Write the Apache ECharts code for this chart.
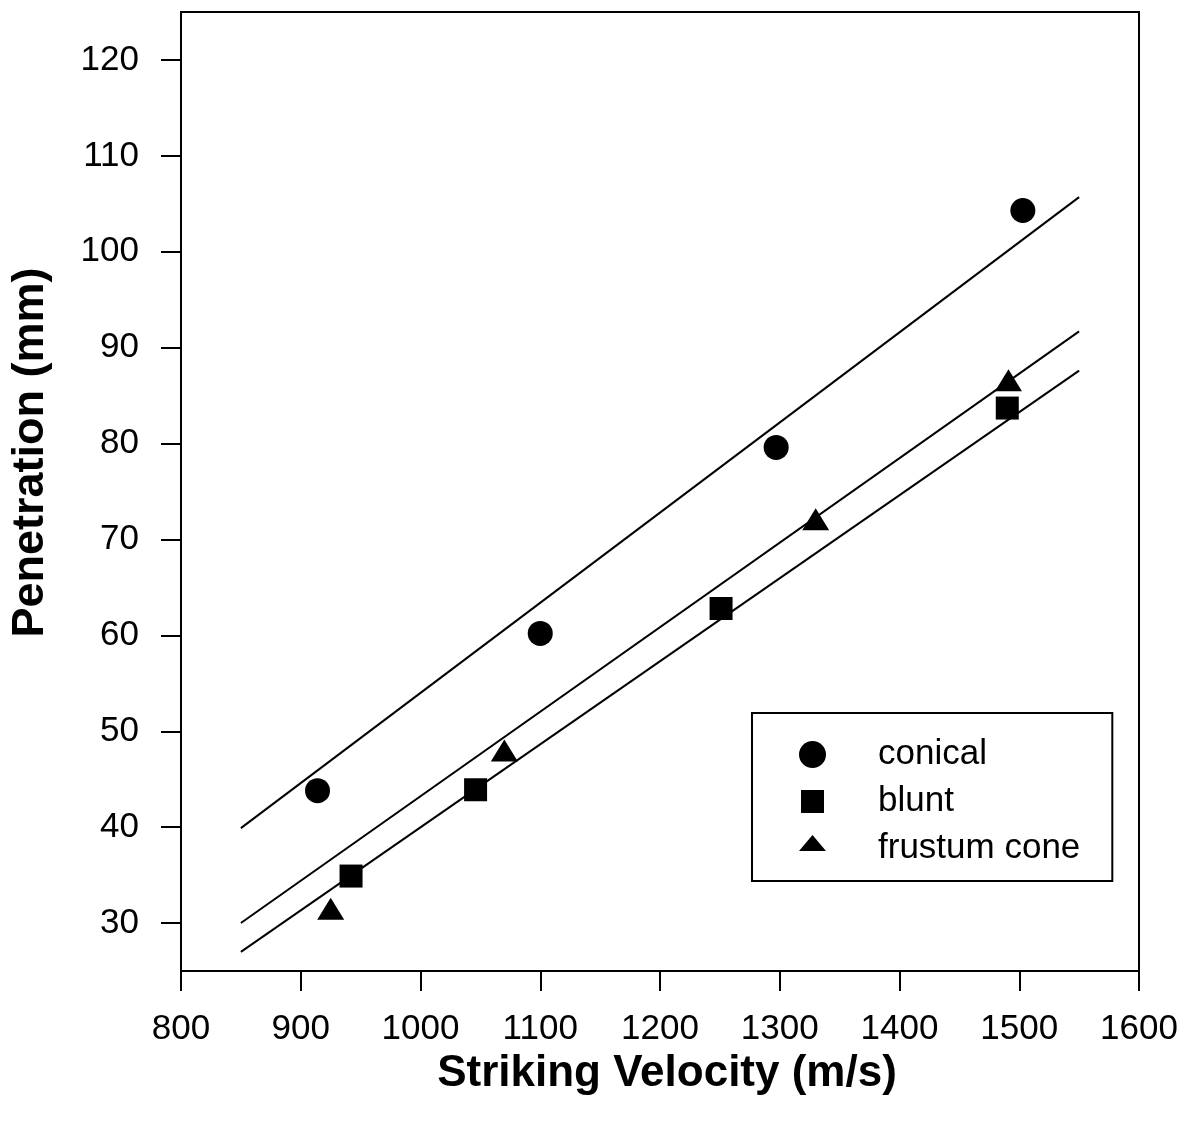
<!DOCTYPE html>
<html>
<head>
<meta charset="utf-8">
<script src="https://cdn.jsdelivr.net/npm/echarts@6/dist/echarts.min.js"></script>
<style>
html,body{margin:0;padding:0;background:#fff;}
#chart{width:1193px;height:1127px;}
</style>
</head>
<body>
<div id="chart"></div>
<script>
// ---- data ----
const conicalX = [914, 1100, 1297, 1503];
const conicalY = [43.8, 60.2, 79.6, 104.3];
const bluntX = [942, 1046, 1251, 1490];
const bluntY = [34.9, 43.9, 62.8, 83.7];
const frustumX = [925, 1070, 1330, 1491];
const frustumY = [31.5, 48.0, 72.1, 86.6];
// regression line endpoints
const fitX = [850, 1550];
const conicalFitY = [39.9, 105.7];
const frustumFitY = [30.0, 91.7];
const bluntFitY = [27.0, 87.6];
const yTicks = [30, 40, 50, 60, 70, 80, 90, 100, 110, 120];
const seriesNames = ['conical', 'blunt', 'frustum cone'];

const pairs = (xs, ys) => xs.map((x, i) => [x, ys[i]]);
const FONT = "'Liberation Sans', Arial, Helvetica, sans-serif";

const chart = echarts.init(document.getElementById('chart'), null, {renderer: 'canvas'});
const lineStyle = {color: '#000', width: 2};
chart.setOption({
  backgroundColor: '#fff',
  animation: false,
  grid: {left: 179, right: 54, top: 12, bottom: 156, show: true, borderColor: '#000', borderWidth: 2, backgroundColor: 'transparent'},
  xAxis: {
    type: 'value', min: 800, max: 1600, interval: 100,
    name: 'Striking Velocity (m/s)', nameLocation: 'middle', nameGap: 79,
    nameTextStyle: {fontFamily: FONT, fontSize: 44, fontWeight: 'bold', color: '#000', padding: [0, 0, 0, 14]},
    axisLine: {show: true, lineStyle: {color: '#000', width: 2}},
    axisTick: {show: true, inside: false, length: 20, lineStyle: {color: '#000', width: 2}},
    axisLabel: {fontFamily: FONT, fontSize: 35, color: '#000', margin: 41, formatter: v => String(v)},
    splitLine: {show: false}
  },
  yAxis: {
    type: 'value', min: 25, max: 125,
    name: 'Penetration (mm)', nameLocation: 'middle', nameGap: 128, nameRotate: 90,
    nameTextStyle: {fontFamily: FONT, fontSize: 45, fontWeight: 'bold', color: '#000', padding: [0, 0, 0, 78]},
    axisLine: {show: true, lineStyle: {color: '#000', width: 2}},
    axisTick: {show: true, inside: false, length: 20, customValues: yTicks, lineStyle: {color: '#000', width: 2}},
    axisLabel: {fontFamily: FONT, fontSize: 35, color: '#000', margin: 42, customValues: yTicks},
    splitLine: {show: false}
  },
  legend: {
    orient: 'vertical', left: 752, top: 713,
    padding: [24, 32, 15, 47],
    itemWidth: 27, itemHeight: 27, itemGap: 12,
    backgroundColor: '#fff', borderColor: '#000', borderWidth: 2,
    textStyle: {fontFamily: FONT, fontSize: 35, color: '#000', padding: [0, 0, 0, 47]},
    data: [
      {name: seriesNames[0], icon: 'circle'},
      {name: seriesNames[1], icon: 'path://M0,0M27,27M2,2L25,2L25,25L2,25Z'},
      {name: seriesNames[2], icon: 'path://M0,0M27,27M0,16L13.5,0L27,16Z'}
    ]
  },
  series: [
    {type: 'line', name: 'conical fit', data: pairs(fitX, conicalFitY), showSymbol: false, symbol: 'none', lineStyle: lineStyle, z: 1},
    {type: 'line', name: 'frustum fit', data: pairs(fitX, frustumFitY), showSymbol: false, symbol: 'none', lineStyle: lineStyle, z: 1},
    {type: 'line', name: 'blunt fit', data: pairs(fitX, bluntFitY), showSymbol: false, symbol: 'none', lineStyle: lineStyle, z: 1},
    {type: 'scatter', name: seriesNames[0], data: pairs(conicalX, conicalY), symbol: 'circle', symbolSize: 25, itemStyle: {color: '#000', opacity: 1}, z: 3},
    {type: 'scatter', name: seriesNames[1], data: pairs(bluntX, bluntY), symbol: 'rect', symbolSize: 23, itemStyle: {color: '#000', opacity: 1}, z: 3},
    {type: 'scatter', name: seriesNames[2], data: pairs(frustumX, frustumY), symbol: 'triangle', symbolSize: [27, 22], itemStyle: {color: '#000', opacity: 1}, z: 3}
  ]
});
</script>
</body>
</html>
